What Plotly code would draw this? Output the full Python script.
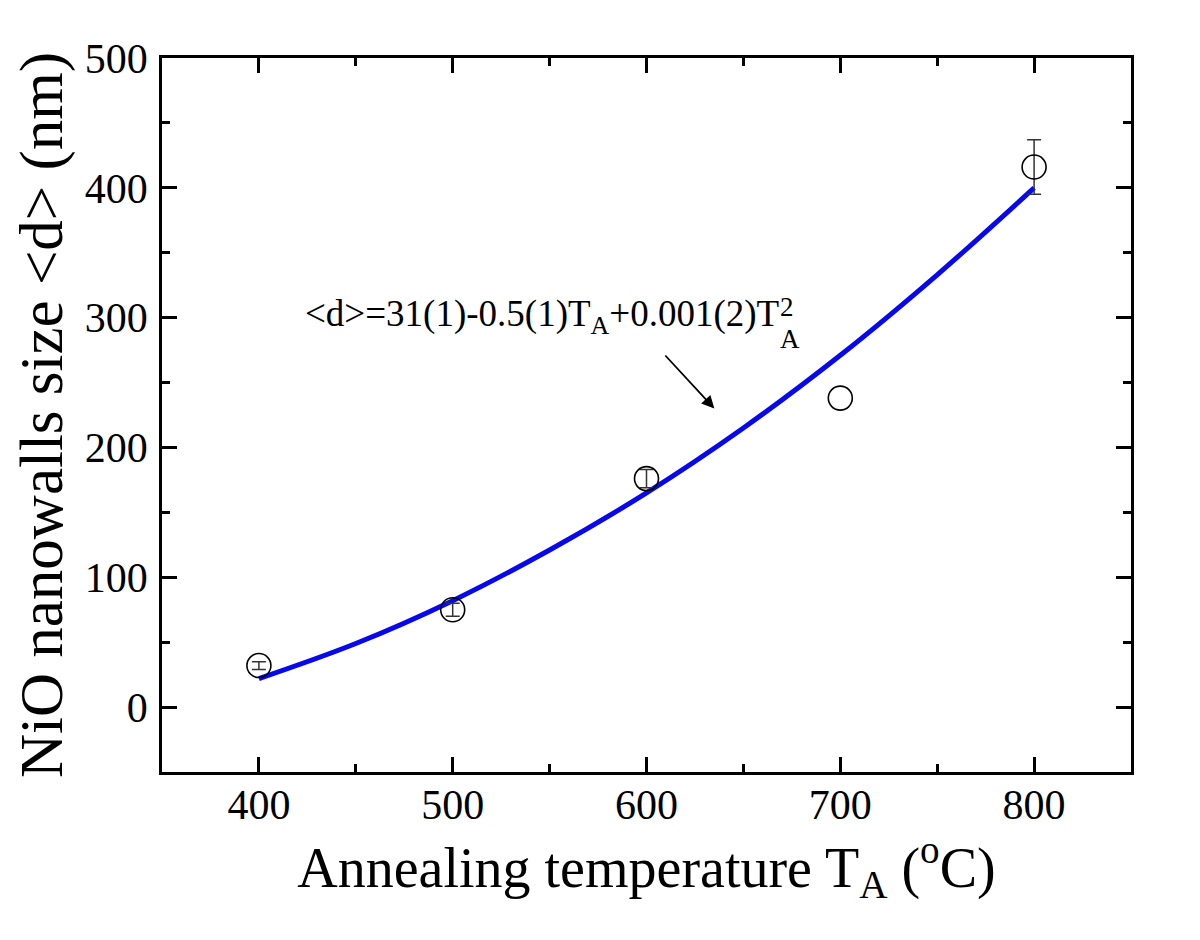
import plotly.graph_objects as go

# Measured data
temps = [400, 500, 600, 700, 800]
sizes = [32, 75, 176, 238, 416]
size_err = [3, 5, 7, 0, 21]

# Fit curve
fit_t = [400, 450, 500, 550, 600, 650, 700, 750, 800]
fit_d = [22, 49, 82, 121, 165, 215, 271, 333, 400]

x_ticks = [400, 500, 600, 700, 800]
y_ticks = [0, 100, 200, 300, 400, 500]

FONT = "Liberation Serif, Times New Roman, serif"

fig = go.Figure()
fig.add_trace(go.Scatter(
    x=fit_t, y=fit_d, mode="lines", line=dict(color="#0808ee", width=5, shape="spline"),
    showlegend=False, hoverinfo="skip"))

# error bars only for points that have them
err_pts = [(t, s, e) for t, s, e in zip(temps, sizes, size_err) if e > 0]
fig.add_trace(go.Scatter(
    x=[p[0] for p in err_pts], y=[p[1] for p in err_pts], mode="markers",
    marker=dict(size=1, opacity=0),
    error_y=dict(type="data", array=[p[2] for p in err_pts], visible=True,
                 color="#333333", thickness=1.5, width=7),
    showlegend=False, hoverinfo="skip"))

fig.add_trace(go.Scatter(
    x=temps, y=sizes, mode="markers",
    marker=dict(symbol="circle-open", size=24, color="black", line=dict(width=1.6, color="black")),
    showlegend=False))

axis_common = dict(
    showline=True, linecolor="black", linewidth=2.5, mirror="allticks",
    ticks="inside", ticklen=15, tickwidth=2.5, tickcolor="black",
    showgrid=False, zeroline=False,
    tickfont=dict(family=FONT, size=42, color="black"),
)

fig.update_xaxes(
    range=[350, 850], tickvals=x_ticks,
    minor=dict(ticks="inside", ticklen=8, tickwidth=2.5, tickcolor="black", dtick=50, tick0=350, showgrid=False),
    title=dict(text="Annealing temperature T<sub>A</sub> (<sup>o</sup>C)",
               font=dict(family=FONT, size=56, color="black"), standoff=0),
    ticklabelstandoff=-6,
    **axis_common)
fig.update_yaxes(
    range=[-50, 500], tickvals=y_ticks,
    minor=dict(ticks="inside", ticklen=8, tickwidth=2.5, tickcolor="black", dtick=50, tick0=-50, showgrid=False),
    title=dict(text="NiO nanowalls size &lt;d&gt; (nm)",
               font=dict(family=FONT, size=61, color="black"), standoff=8),
    ticklabelstandoff=3,
    **axis_common)

# fit equation; the last T_A^2 has its index and exponent stacked
fig.add_annotation(
    x=422.8, y=301, xref="x", yref="y", xanchor="left", yanchor="middle",
    text="&lt;d&gt;=31(1)-0.5(1)T<sub>A</sub>+0.001(2)T",
    showarrow=False, font=dict(family=FONT, size=37, color="black"))
fig.add_annotation(
    x=668.2, y=296, xref="x", yref="y", xanchor="left", yanchor="bottom",
    text="2", showarrow=False, borderpad=0, font=dict(family=FONT, size=27, color="black"))
fig.add_annotation(
    x=668.2, y=296, xref="x", yref="y", xanchor="left", yanchor="top",
    text="A", showarrow=False, borderpad=0, font=dict(family=FONT, size=27, color="black"))
fig.add_annotation(
    x=635, y=230, ax=609, ay=272, xref="x", yref="y", axref="x", ayref="y",
    text="", showarrow=True, arrowhead=2, arrowsize=1.4, arrowwidth=1.8, arrowcolor="black")

fig.update_layout(
    width=1192, height=932,
    margin=dict(l=154, r=69, t=50, b=168, autoexpand=False),
    paper_bgcolor="white", plot_bgcolor="white",
    font=dict(family=FONT, color="black"),
)

fig.write_html("out.html")
